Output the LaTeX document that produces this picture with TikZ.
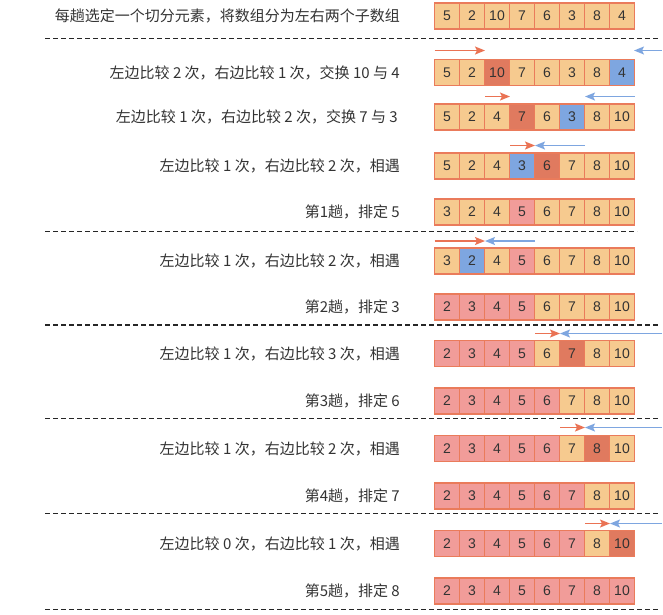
\documentclass[tikz,border=0pt]{standalone}
\usepackage{fontspec}
\setmainfont{Liberation Sans}
\newfontfamily\cjk{Noto Sans CJK SC}
\usetikzlibrary{arrows.meta}
\definecolor{cB}{HTML}{F6CA8F}
\definecolor{cP}{HTML}{F19C99}
\definecolor{cD}{HTML}{E07A5F}
\definecolor{cU}{HTML}{7EA6E0}
\definecolor{bord}{HTML}{EA7B5B}
\definecolor{arred}{HTML}{EA7354}
\definecolor{arblue}{HTML}{7EA6E0}
\definecolor{txt}{HTML}{333333}
\tikzset{
  cellbox/.style={draw=bord, line width=1.2pt, minimum width=25pt, minimum height=26pt,
    inner sep=0pt, text=txt, font=\fontsize{14}{14}\selectfont},
  lbl/.style={anchor=east, inner sep=0pt, text=txt, font=\cjk\fontsize{15}{17}\selectfont},
  sep/.style={draw=black!85, line width=1.1pt, dash pattern=on 5pt off 3pt},
  rarr/.style={draw=arred, line width=1.4pt, -{Stealth[length=10pt,width=8pt,inset=2pt]}},
  barr/.style={draw=arblue, line width=1.4pt, -{Stealth[length=10pt,width=8pt,inset=2pt]}}
}
\newcommand\cellrow[3]{%
  \foreach \v/\c [count=\i] in {#3} {
    \node[cellbox, fill=\c] (r#1-\i) at ({447+25*(\i-1)}, #2) {\v};
  }%
}
\begin{document}
\begin{tikzpicture}[x=1pt, y=-1pt]
\useasboundingbox (0,0) rectangle (663,614);

% rows of cells
\cellrow{1}{16}{5/cB,2/cB,10/cB,7/cB,6/cB,3/cB,8/cB,4/cB}
\cellrow{2}{72.5}{5/cB,2/cB,10/cD,7/cB,6/cB,3/cB,8/cB,4/cU}
\cellrow{3}{117}{5/cB,2/cB,4/cB,7/cD,6/cB,3/cU,8/cB,10/cB}
\cellrow{4}{166}{5/cB,2/cB,4/cB,3/cU,6/cD,7/cB,8/cB,10/cB}
\cellrow{5}{212}{3/cB,2/cB,4/cB,5/cP,6/cB,7/cB,8/cB,10/cB}
\cellrow{6}{261}{3/cB,2/cU,4/cB,5/cP,6/cB,7/cB,8/cB,10/cB}
\cellrow{7}{307}{2/cP,3/cP,4/cP,5/cP,6/cB,7/cB,8/cB,10/cB}
\cellrow{8}{353.5}{2/cP,3/cP,4/cP,5/cP,6/cB,7/cD,8/cB,10/cB}
\cellrow{9}{401}{2/cP,3/cP,4/cP,5/cP,6/cP,7/cB,8/cB,10/cB}
\cellrow{10}{448.5}{2/cP,3/cP,4/cP,5/cP,6/cP,7/cB,8/cD,10/cB}
\cellrow{11}{496}{2/cP,3/cP,4/cP,5/cP,6/cP,7/cP,8/cB,10/cB}
\cellrow{12}{543.5}{2/cP,3/cP,4/cP,5/cP,6/cP,7/cP,8/cB,10/cD}
\cellrow{13}{591}{2/cP,3/cP,4/cP,5/cP,6/cP,7/cP,8/cP,10/cP}

% labels
\node[lbl] (t1) at (400,16) {每趟选定一个切分元素，将数组分为左右两个子数组};
\node[lbl] (t2) at (400,72.5) {左边比较 2 次，右边比较 1 次，交换 10 与 4};
\node[lbl] (t3) at (398,117) {左边比较 1 次，右边比较 2 次，交换 7 与 3};
\node[lbl] (t4) at (400,166) {左边比较 1 次，右边比较 2 次，相遇};
\node[lbl] (t5) at (400,212) {第1趟，排定 5};
\node[lbl] (t6) at (400,261) {左边比较 1 次，右边比较 2 次，相遇};
\node[lbl] (t7) at (400,307) {第2趟，排定 3};
\node[lbl] (t8) at (400,353.5) {左边比较 1 次，右边比较 3 次，相遇};
\node[lbl] (t9) at (400,401) {第3趟，排定 6};
\node[lbl] (t10) at (400,448.5) {左边比较 1 次，右边比较 2 次，相遇};
\node[lbl] (t11) at (400,496) {第4趟，排定 7};
\node[lbl] (t12) at (400,543.5) {左边比较 0 次，右边比较 1 次，相遇};
\node[lbl] (t13) at (400,591) {第5趟，排定 8};

% separators
\foreach \n/\y/\e in {1/38.5/660, 2/231.5/637, 3/325/660, 4/418.5/660, 5/513.5/660, 6/609.5/660} {
  \coordinate (s\n a) at (45,\y);
  \coordinate (s\n b) at (\e,\y);
  \draw[sep] (s\n a) -- (s\n b);
}

% arrows
\coordinate (a2rs) at (434.5,50.5); \coordinate (a2re) at (485,50.5);
\coordinate (a2bs) at (662,50.5);   \coordinate (a2be) at (634,50.5);
\draw[rarr] (a2rs) -- (a2re);
\draw[barr] (a2bs) -- (a2be);

\coordinate (a3rs) at (485,96.5); \coordinate (a3re) at (510,96.5);
\coordinate (a3bs) at (635,96.5); \coordinate (a3be) at (585,96.5);
\draw[rarr] (a3rs) -- (a3re);
\draw[barr] (a3bs) -- (a3be);

\coordinate (a4rs) at (510,145.5); \coordinate (a4re) at (535,145.5);
\coordinate (a4bs) at (585,145.5); \coordinate (a4be) at (535,145.5);
\draw[rarr] (a4rs) -- (a4re);
\draw[barr] (a4bs) -- (a4be);

\coordinate (a6rs) at (434.5,241); \coordinate (a6re) at (485,241);
\coordinate (a6bs) at (535,241);   \coordinate (a6be) at (485,241);
\draw[rarr] (a6rs) -- (a6re);
\draw[barr] (a6bs) -- (a6be);

\coordinate (a8rs) at (535,333.5); \coordinate (a8re) at (560,333.5);
\coordinate (a8bs) at (662,333.5); \coordinate (a8be) at (560,333.5);
\draw[rarr] (a8rs) -- (a8re);
\draw[barr] (a8bs) -- (a8be);

\coordinate (a10rs) at (560,427.5); \coordinate (a10re) at (585,427.5);
\coordinate (a10bs) at (662,427.5); \coordinate (a10be) at (585,427.5);
\draw[rarr] (a10rs) -- (a10re);
\draw[barr] (a10bs) -- (a10be);

\coordinate (a12rs) at (585,523.5); \coordinate (a12re) at (610,523.5);
\coordinate (a12bs) at (662,523.5); \coordinate (a12be) at (610,523.5);
\draw[rarr] (a12rs) -- (a12re);
\draw[barr] (a12bs) -- (a12be);
\end{tikzpicture}
\end{document}
